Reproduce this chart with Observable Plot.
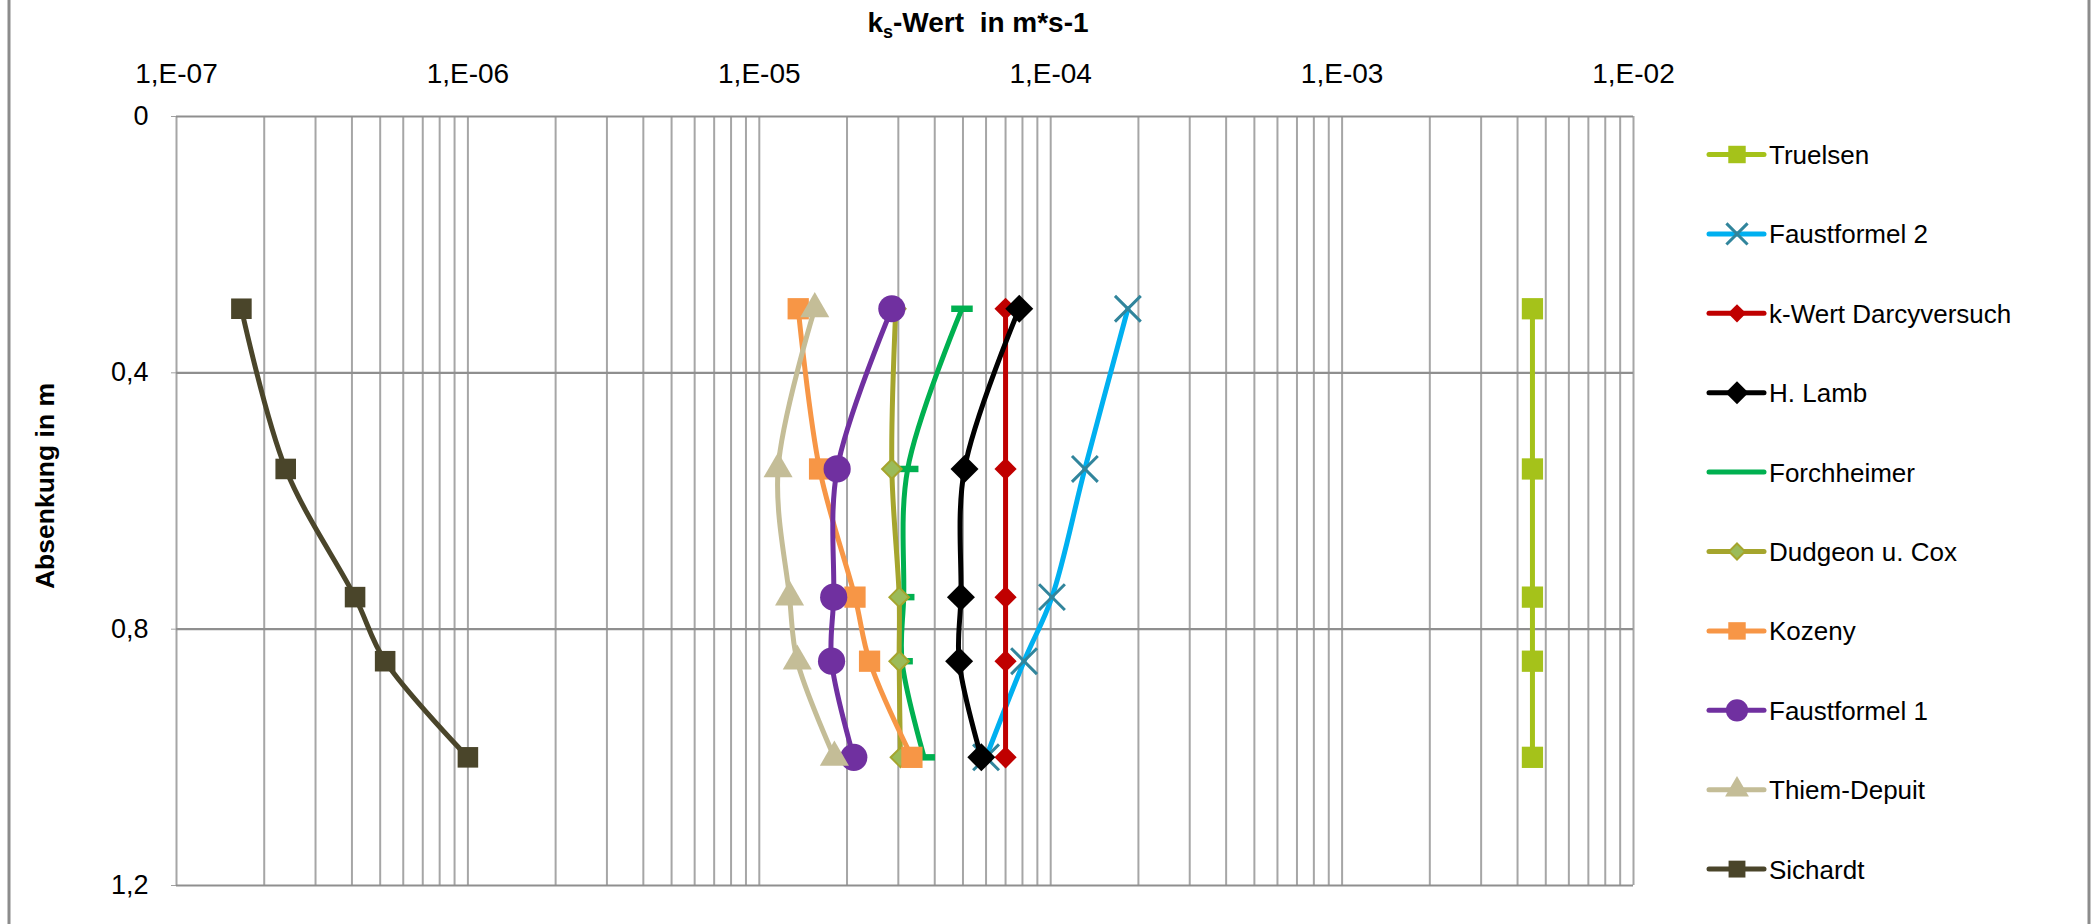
<!DOCTYPE html>
<html>
<head>
<meta charset="utf-8">
<script src="https://cdn.jsdelivr.net/npm/d3@7"></script>
<script src="https://cdn.jsdelivr.net/npm/@observablehq/plot@0.6"></script>
<style>
  html, body { margin: 0; padding: 0; background: #fff; }
  #chart svg { display: block; }
</style>
</head>
<body>
<div id="chart"></div>
<script>
// ---------- data ----------
const depths = [0.3, 0.55, 0.75, 0.85, 1.0];               // Absenkung in m
const seriesNames = ["Truelsen", "Faustformel 2", "k-Wert Darcyversuch", "H. Lamb", "Forchheimer",
                     "Dudgeon u. Cox", "Kozeny", "Faustformel 1", "Thiem-Depuit", "Sichardt"];
const truelsen     = [4.5e-3, 4.5e-3, 4.5e-3, 4.5e-3, 4.5e-3];
const faustformel2 = [1.84e-4, 1.31e-4, 1.01e-4, 8.1e-5, 6.0e-5];
const kWertDarcy   = [7.0e-5, 7.0e-5, 7.0e-5, 7.0e-5, 7.0e-5];
const hLamb        = [7.8e-5, 5.06e-5, 4.92e-5, 4.85e-5, 5.78e-5];
const forchheimer  = [4.96e-5, 3.23e-5, 3.13e-5, 3.09e-5, 3.68e-5];
const dudgeonCox   = [2.94e-5, 2.85e-5, 3.02e-5, 3.02e-5, 3.05e-5];
const kozeny       = [1.36e-5, 1.61e-5, 2.13e-5, 2.39e-5, 3.34e-5];
const faustformel1 = [2.85e-5, 1.85e-5, 1.80e-5, 1.77e-5, 2.11e-5];
const thiemDepuit  = [1.55e-5, 1.16e-5, 1.27e-5, 1.35e-5, 1.81e-5];
const sichardt     = [1.67e-7, 2.37e-7, 4.1e-7, 5.2e-7, 1.0e-6];
const seriesValues = [truelsen, faustformel2, kWertDarcy, hLamb, forchheimer,
                      dudgeonCox, kozeny, faustformel1, thiemDepuit, sichardt];

const xTickValues = [1e-7, 1e-6, 1e-5, 1e-4, 1e-3, 1e-2];
const xTickLabels = ["1,E-07", "1,E-06", "1,E-05", "1,E-04", "1,E-03", "1,E-02"];
const yTickValues = [0, 0.4, 0.8, 1.2];
const yTickLabels = ["0", "0,4", "0,8", "1,2"];
const xTitleMain = "k";
const xTitleSub = "s";
const xTitleRest = "-Wert\u00a0\u00a0in m*s-1";
const yTitle = "Absenkung in m";

// ---------- styles ----------
const dashSymbol = {
  draw(ctx, size) {
    const w = Math.sqrt(size) * 1.18, h = w * 0.3;
    ctx.rect(-w / 2, -h / 2, w, h);
  }
};
const styles = {
  "Truelsen":            {line: "#a5c21a", symbol: "square",   r: 12.0, fill: "#a5c21a", stroke: "none"},
  "Faustformel 2":       {line: "#00b0f0", symbol: "times",    r: 11.8, fill: "none",    stroke: "#31859c", sw: 3},
  "k-Wert Darcyversuch": {line: "#c00000", symbol: "diamond2", r: 10.0, fill: "#c00000", stroke: "none"},
  "H. Lamb":             {line: "#000000", symbol: "diamond2", r: 12.6, fill: "#000000", stroke: "none"},
  "Forchheimer":         {line: "#00b050", symbol: dashSymbol, r: 10.3, fill: "#00b050", stroke: "none"},
  "Dudgeon u. Cox":      {line: "#a5a52d", symbol: "diamond2", r: 8.8,  fill: "#9bbb59", stroke: "#a5a52d", sw: 2},
  "Kozeny":              {line: "#f79646", symbol: "square",   r: 12.0, fill: "#f79646", stroke: "none"},
  "Faustformel 1":       {line: "#7030a0", symbol: "circle",   r: 13.6, fill: "#7030a0", stroke: "none"},
  "Thiem-Depuit":        {line: "#c4bd97", symbol: "triangle", r: 10.8, fill: "#c4bd97", stroke: "none"},
  "Sichardt":            {line: "#4a452a", symbol: "square",   r: 11.6, fill: "#4a452a", stroke: "none"}
};

const W = 2100, H = 924;
const mLeft = 176, mRight = W - 1633, mTop = 116, mBottom = H - 885;

// minor grid positions of the log axis (1..9 per decade)
const gridXValues = [];
for (let e = -7; e < -2; e++) for (let k = 1; k < 10; k++) gridXValues.push(k * Math.pow(10, e));
gridXValues.push(1e-2);

const marks = [
  Plot.gridX(gridXValues, {stroke: "#a6a6a6", strokeOpacity: 1, strokeWidth: 2}),
  Plot.gridY(yTickValues, {stroke: "#8f8f8f", strokeOpacity: 1, strokeWidth: 2.2}),
  Plot.axisX(xTickValues, {
    anchor: "top", tickSize: 0, tickPadding: 34, label: null,
    tickFormat: d => xTickLabels[xTickValues.indexOf(d)],
    fontSize: 28, fill: "#000"
  }),
  Plot.axisY(yTickValues, {
    anchor: "left", tickSize: 5, tickPadding: 23, label: null,
    tickFormat: d => yTickLabels[yTickValues.indexOf(d)],
    fontSize: 27, fill: "#000", stroke: "#a0a0a0"
  })
];

seriesNames.forEach((name, i) => {
  const data = depths.map((d, j) => ({depth: d, k: seriesValues[i][j]}));
  const s = styles[name];
  marks.push(Plot.line(data, {x: "k", y: "depth", curve: "catmull-rom", stroke: s.line, strokeWidth: 5}));
  marks.push(Plot.dot(data, {x: "k", y: "depth", symbol: s.symbol, r: s.r, fill: s.fill,
    stroke: s.stroke, strokeWidth: s.sw || 0}));
});

const chart = Plot.plot({
  width: W, height: H,
  marginLeft: mLeft, marginRight: mRight, marginTop: mTop, marginBottom: mBottom,
  style: {fontFamily: "'Liberation Sans', Arial, sans-serif", background: "#fff", color: "#000"},
  x: {type: "log", domain: [1e-7, 1e-2], axis: null},
  y: {domain: [0, 1.2], reverse: true, axis: null},
  marks
});
document.getElementById("chart").appendChild(chart);

// ---------- titles, frame & legend ----------
const svg = d3.select(chart);
const FONT = "'Liberation Sans', Arial, sans-serif";

// outer chart-area frame
svg.append("line").attr("x1", 9).attr("x2", 9).attr("y1", 0).attr("y2", H)
  .attr("stroke", "#8c8c8c").attr("stroke-width", 3);
svg.append("line").attr("x1", 2089).attr("x2", 2089).attr("y1", 0).attr("y2", H)
  .attr("stroke", "#8c8c8c").attr("stroke-width", 3);

const t = svg.append("text").attr("x", 978).attr("y", 32).attr("text-anchor", "middle")
  .attr("font-family", FONT).attr("font-weight", "bold")
  .attr("font-size", 28).attr("fill", "#000");
t.append("tspan").text(xTitleMain);
t.append("tspan").attr("font-size", 18).attr("dy", 6).text(xTitleSub);
t.append("tspan").attr("dy", -6).text(xTitleRest);

svg.append("text").attr("transform", "translate(54,486) rotate(-90)").attr("text-anchor", "middle")
  .attr("font-family", FONT).attr("font-weight", "bold")
  .attr("font-size", 26.5).attr("fill", "#000").text(yTitle);

const d3sym = {square: d3.symbolSquare, times: d3.symbolTimes, diamond2: d3.symbolDiamond2,
               circle: d3.symbolCircle, triangle: d3.symbolTriangle};
const lg = svg.append("g").attr("font-family", FONT).attr("font-size", 26).attr("text-anchor", "start");
seriesNames.forEach((name, i) => {
  const s = styles[name];
  const y = 154.5 + i * 79.4;
  lg.append("line").attr("x1", 1709).attr("x2", 1764).attr("y1", y).attr("y2", y)
    .attr("stroke", s.line).attr("stroke-width", 5).attr("stroke-linecap", "round");
  const type = typeof s.symbol === "string" ? d3sym[s.symbol] : s.symbol;
  const size = Math.PI * (s.r * 0.82) ** 2;
  if (name !== "Forchheimer") {
    lg.append("path").attr("transform", `translate(1737,${y})`)
      .attr("d", d3.symbol(type, size)())
      .attr("fill", s.fill).attr("stroke", s.stroke).attr("stroke-width", s.sw || 0);
  }
  lg.append("text").attr("x", 1769).attr("y", y + 9.5).attr("text-anchor", "start")
    .attr("fill", "#000").text(name);
});
</script>
</body>
</html>
